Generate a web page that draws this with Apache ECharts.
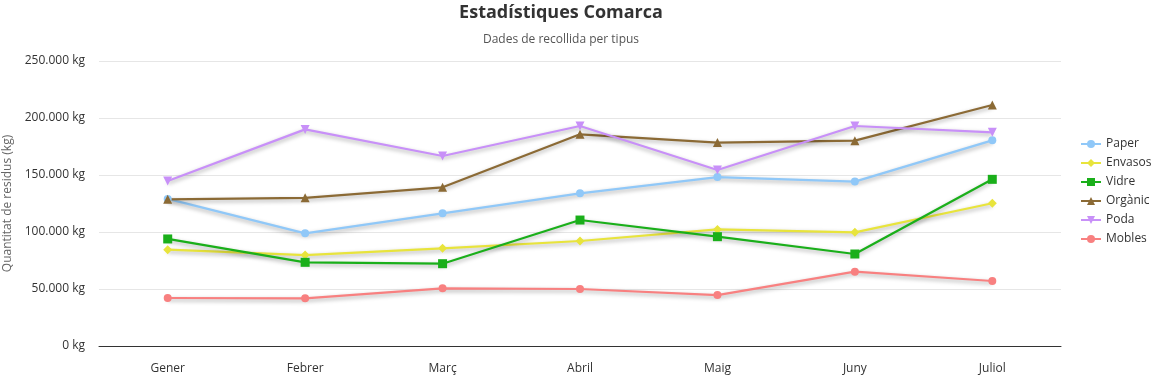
<!DOCTYPE html>
<html><head><meta charset="utf-8">
<script src="https://cdn.jsdelivr.net/npm/echarts@6/dist/echarts.min.js"></script>
<style>html,body{margin:0;padding:0;background:#fff}#c{width:1155px;height:376px}</style>
</head><body><div id="c"></div>
<script>
const categories = ['Gener','Febrer','Març','Abril','Maig','Juny','Juliol'];
const paper   = [129000, 98800, 116400, 133900, 148200, 144200, 180400];
const envasos = [84500, 79800, 85700, 92100, 102300, 99700, 125200];
const vidre   = [93900, 73400, 72200, 110500, 95900, 80700, 146200];
const organic = [128700, 130000, 139200, 185700, 178400, 180100, 211400];
const poda    = [144700, 190000, 166700, 193000, 154400, 193000, 187400];
const mobles  = [42100, 41800, 50600, 50000, 44700, 65200, 57000];
const yTicks = [0, 50000, 100000, 150000, 200000, 250000];

const font = '"Open Sans", "Noto Sans", sans-serif';
function fmt(v){ return v.toString().replace(/\B(?=(\d{3})+(?!\d))/g, '.') + ' kg'; }
function s(name, data, color, symbol, size){
  return {name, type:'line', data, symbol, symbolSize:size, showSymbol:true,
    itemStyle:{color},
    lineStyle:{color, width:2.2, shadowColor:'rgba(0,0,0,0.35)', shadowBlur:4, shadowOffsetY:2},
    emphasis:{disabled:true}};
}
const chart = echarts.init(document.getElementById('c'));
chart.setOption({
  animation:false,
  title:{text:'Estadístiques Comarca', subtext:'Dades de recollida per tipus', left:556, textAlign:'center', top:-1,
    textStyle:{fontFamily:font, fontSize:18, fontWeight:'bold', color:'#333'},
    subtextStyle:{fontFamily:font, fontSize:12, color:'#555'}, itemGap:12},
  legend:{orient:'vertical', left:1075, top:133, itemWidth:20, itemHeight:10, itemGap:7,
    textStyle:{fontFamily:font, fontSize:12, color:'#333'},
    data:['Paper','Envasos','Vidre','Orgànic','Poda','Mobles']},
  grid:{left:99, right:94, top:61, bottom:30, containLabel:false, outerBoundsMode:'none'},
  xAxis:{type:'category', data:categories, boundaryGap:true,
    axisLine:{lineStyle:{color:'#333'}}, axisTick:{show:false},
    axisLabel:{fontFamily:font, fontSize:12, color:'#333', margin:17}},
  yAxis:{type:'value', min:0, max:yTicks[yTicks.length-1], interval:50000,
    name:'Quantitat de residus (kg)', nameLocation:'middle', nameGap:84,
    nameTextStyle:{fontFamily:font, fontSize:12, color:'#666'},
    axisLine:{show:false}, axisTick:{show:false},
    splitLine:{lineStyle:{color:'#e6e6e6'}},
    axisLabel:{fontFamily:font, fontSize:12, color:'#333', margin:14, formatter:fmt}},
  series:[
    s('Paper', paper, '#90c8f8', 'circle', 8),
    s('Envasos', envasos, '#e8e43c', 'diamond', 9),
    s('Vidre', vidre, '#1aaf1a', 'rect', 9),
    s('Orgànic', organic, '#8b6a35', 'triangle', 9),
    s('Poda', poda, '#c890f8', 'path://M0,0 L10,0 L5,10 Z', 9),
    s('Mobles', mobles, '#f88080', 'circle', 8)
  ]
});
</script></body></html>
